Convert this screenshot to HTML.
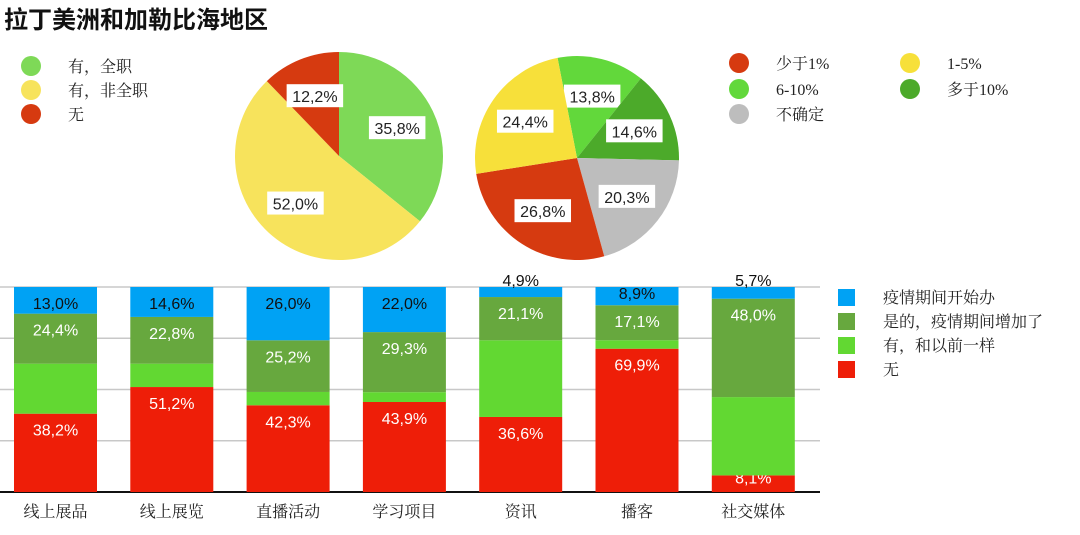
<!DOCTYPE html>
<html><head><meta charset="utf-8"><style>
body{margin:0;width:1080px;height:535px;background:#fff;overflow:hidden;font-family:"Liberation Sans","Noto Sans CJK SC",sans-serif;}
svg{position:absolute;left:0;top:0}
.leg{font-family:"Liberation Serif","Noto Serif CJK SC",serif;font-size:16px;fill:#222}
.v{font-family:"Liberation Sans","Noto Sans CJK SC",sans-serif;font-size:16px}
</style></head><body>
<svg id="c" width="1080" height="535">
<text x="4" y="28" font-size="24" font-weight="bold" fill="#111" font-family="Liberation Sans,Noto Sans CJK SC,sans-serif">拉丁美洲和加勒比海地区</text>
</svg>
<script>
const NS='http://www.w3.org/2000/svg';
const svg=document.getElementById('c');
function mk(t,a,txt){const e=document.createElementNS(NS,t);for(const k in a)e.setAttribute(k,a[k]);if(txt!=null)e.textContent=txt;svg.appendChild(e);return e;}

// Pie 1 data
const pie1Labels=['有，全职','有，非全职','无'];
const pie1Values=[35.8,52.0,12.2];
const pie1Colors=['#7ed957','#f7e35c','#d63a10'];
// Pie 2 data
const pie2Labels=['6-10%','多于10%','不确定','少于1%','1-5%'];
const pie2Values=[13.8,14.6,20.3,26.8,24.4];
const pie2Colors=['#62d83b','#4caa2a','#bdbdbd','#d63a10','#f7e03a'];
// Bar data
const categories=['线上展品','线上展览','直播活动','学习项目','资讯','播客','社交媒体'];
const seriesNames=['无','有，和以前一样','是的，疫情期间增加了','疫情期间开始办'];
const redVals=[38.2,51.2,42.3,43.9,36.6,69.9,8.1];
const lightGreenVals=[24.4,11.4,6.5,4.8,37.4,4.1,38.2];
const darkGreenVals=[24.4,22.8,25.2,29.3,21.1,17.1,48.0];
const blueVals=[13.0,14.6,26.0,22.0,4.9,8.9,5.7];
const barColors=['#ee1e08','#62d832','#67a83e','#00a2f4'];

function fmt(v){return v.toFixed(1).replace('.',',')+'%';}

function pie(cx,cy,r,vals,cols,offDeg,name){
  let a=offDeg*Math.PI/180;const tot=vals.reduce((s,v)=>s+v,0);
  vals.forEach((v,i)=>{
    const sw=v/tot*2*Math.PI;const a2=a+sw;
    const x1=cx+r*Math.sin(a),y1=cy-r*Math.cos(a),x2=cx+r*Math.sin(a2),y2=cy-r*Math.cos(a2);
    const p=mk('path',{d:`M${cx},${cy}L${x1},${y1}A${r},${r} 0 ${sw>Math.PI?1:0} 1 ${x2},${y2}Z`,fill:cols[i]});
    
    
    const m=a+sw/2,lr=r*0.62;const lx=cx+lr*Math.sin(m),ly=cy-lr*Math.cos(m);
    const t=fmt(v);const w=t.length*10.5+4;
    const b=mk('rect',{x:lx-w/2,y:ly-12,width:w,height:23,fill:'#fff'});
    
    
    const tx=mk('text',{x:lx,y:ly+6,'text-anchor':'middle',class:'v','font-size':18,fill:'#222'},t);
    
    
    a=a2;
  });
}
pie(339,156,104,pie1Values,pie1Colors,0,'pie1');
pie(577,158,102,pie2Values,pie2Colors,-11,'pie2');

// legends
function dot(x,y,c,label,n){
  const d=mk('circle',{cx:x,cy:y,r:10,fill:c});
  
  
  const t=mk('text',{x:x+37,y:y+6,class:'leg'},label);
  
  
}
dot(31,66,pie1Colors[0],pie1Labels[0],'legend-fulltime');
dot(31,90,pie1Colors[1],pie1Labels[1],'legend-parttime');
dot(31,114,pie1Colors[2],pie1Labels[2],'legend-none');
dot(739,63,'#d63a10','少于1%','legend-lt1');
dot(910,63,'#f7e03a','1-5%','legend-1-5');
dot(739,89,'#62d83b','6-10%','legend-6-10');
dot(910,89,'#4caa2a','多于10%','legend-gt10');
dot(739,114,'#bdbdbd','不确定','legend-unsure');

// bar chart
const base=492,top0=287,x0=14,step=116.3,bw=83;
function y(v){return base-(v/100)*(base-top0);}
[0,25,50,75,100].forEach(g=>{
  const l=mk('line',{x1:0,x2:820,y1:y(g),y2:y(g),stroke:g==0?'#111':'#c8c8c8','stroke-width':g==0?2:1.5});
  
  
});
categories.forEach((c,i)=>{
  const x=x0+i*step;const vals=[redVals[i],lightGreenVals[i],darkGreenVals[i],blueVals[i]];
  let acc=0;
  vals.forEach((v,s)=>{
    const r=mk('rect',{x:x,y:y(acc+v),width:bw,height:y(acc)-y(acc+v),fill:barColors[s]});
    
    
    if(s!=1){
      let ly=y(acc+v)+22,col='#fff';
      if(s==3){col='#111';if(v<8)ly=y(acc+v)-1;else if(v<10)ly=y(acc+v)+12;}
      if(s==0&&v<10)ly=y(acc+v)+8;
      const t=mk('text',{x:x+bw/2,y:ly,'text-anchor':'middle',class:'v',fill:col},fmt(v));
      
      
    }
    acc+=v;
  });
  const t=mk('text',{x:x+bw/2,y:517,'text-anchor':'middle','font-size':17,class:'leg',fill:'#222'},c);
  
  
});
const legY=[297,321,345,369],legC=[barColors[3],barColors[2],barColors[1],barColors[0]],legT=[seriesNames[3],seriesNames[2],seriesNames[1],seriesNames[0]];
legY.forEach((yy,i)=>{
  const r=mk('rect',{x:838,y:yy-8,width:17,height:17,fill:legC[i]});
  
  
  const t=mk('text',{x:883,y:yy+6,class:'leg'},legT[i]);
  
  
});
</script>
</body></html>
